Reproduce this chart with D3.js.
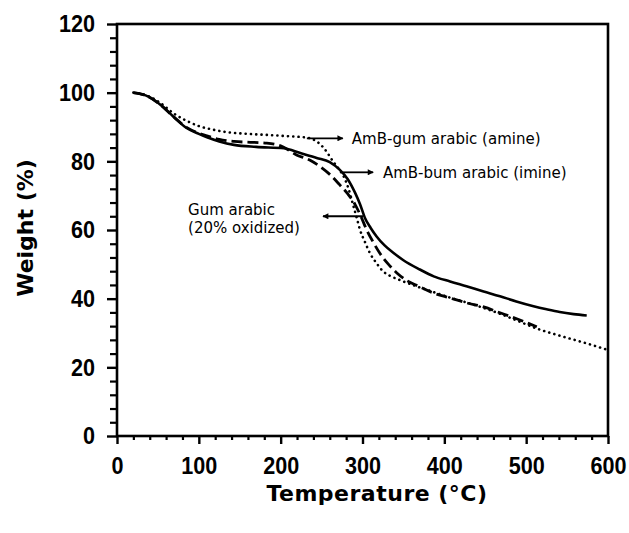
<!DOCTYPE html>
<html>
<head>
<meta charset="utf-8">
<script src="https://cdn.jsdelivr.net/npm/d3@7"></script>
<style>
  html, body { margin: 0; padding: 0; background: #fff; }
  svg { display: block; }
</style>
</head>
<body>
<svg id="chart" width="629" height="533"></svg>
<script>
// ---- data ----
const xTicks = [0, 100, 200, 300, 400, 500, 600];
const yTicks = [0, 20, 40, 60, 80, 100, 120];
const xLabel = "Temperature (\u00B0C)";
const yLabel = "Weight (%)";

const imineT = [20, 35, 53, 69, 85, 100, 110, 125, 143, 170, 204, 224, 244, 260, 272, 282, 291, 297, 303, 310, 317, 327, 338, 350, 370, 387, 407, 427, 448, 468, 488, 509, 525, 541, 558, 574];
const imineW = [100, 99.2, 96.5, 93, 89.7, 88, 87, 85.8, 84.8, 84.2, 83.8, 82.4, 81, 79.8, 77.6, 74.8, 70.8, 67.5, 63.5, 60.6, 58.2, 55.5, 53.3, 51.2, 48.5, 46.5, 45, 43.6, 42.1, 40.7, 39.2, 37.8, 36.9, 36.1, 35.5, 35.1];

const oxidT = [20, 35, 53, 69, 85, 100, 110, 125, 143, 183, 200, 220, 236, 248, 260, 272, 282, 291, 298, 305, 313, 321, 331, 342, 354, 366, 386, 407, 427, 448, 468, 490, 513];
const oxidW = [100, 99.2, 96.5, 93, 89.9, 88.2, 87.4, 86.4, 85.8, 85.3, 84.5, 81.8, 80.3, 78.5, 76.2, 73.2, 70.5, 67.4, 64, 60.1, 56.5, 53.3, 50.2, 47.5, 45.3, 43.9, 41.7, 40.2, 38.8, 37.6, 35.9, 34, 31.8];

const amineT = [20, 35, 53, 69, 85, 101, 118, 134, 160, 183, 210, 232, 244, 254, 264, 271, 277, 283, 289, 293, 297, 303, 309, 317, 325, 335, 346, 366, 386, 407, 427, 448, 468, 490, 513, 530, 550, 575, 598];
const amineW = [100, 99.3, 97, 94, 91.8, 90.2, 89.2, 88.5, 88, 87.7, 87.3, 86.9, 85.8, 83.5, 80, 77.8, 75.6, 72, 66.9, 63.5, 60, 56.5, 53.3, 50.4, 48, 46.5, 45.4, 43.6, 42, 40.3, 38.9, 37.3, 35.6, 33.5, 31.3, 30, 28.6, 26.9, 25.2];

const seriesNames = ["AmB-gum arabic (amine)", "AmB-bum arabic (imine)", "Gum arabic (20% oxidized)"];

// annotations: arrow from (t0,w) to (t1,w), label lines
const annoArrowT0 = [232, 276, 300.6];
const annoArrowT1 = [276, 313, 251.7];
const annoArrowW  = [86.7, 76.8, 64];
const annoTextT   = [287, 325, 86.8];
const annoTextW   = [86.7, 76.8, 66];
const annoLines   = [["AmB-gum arabic (amine)"], ["AmB-bum arabic (imine)"], ["Gum arabic", "(20% oxidized)"]];

// ---- layout ----
const svg = d3.select("#chart");
const L = 117, R = 608, T = 24, B = 436;
const x = d3.scaleLinear().domain([0, 600]).range([L, R]);
const y = d3.scaleLinear().domain([0, 120]).range([B, T]);

const tickFont = "'Liberation Sans', Arial, sans-serif";

// minor ticks
const xMinor = d3.range(0, 601, 20).filter(v => v % 100 !== 0);
const yMinor = d3.range(0, 121, 4).filter(v => v % 20 !== 0);

svg.append("g").attr("transform", `translate(0,${B})`)
  .call(d3.axisBottom(x).tickValues(xMinor).tickSize(4).tickFormat(""))
  .call(g => g.select(".domain").remove())
  .selectAll("line").attr("stroke", "#000").attr("stroke-width", 2.2);

svg.append("g").attr("transform", `translate(${L},0)`)
  .call(d3.axisLeft(y).tickValues(yMinor).tickSize(7).tickFormat(""))
  .call(g => g.select(".domain").remove())
  .selectAll("line").attr("stroke", "#000").attr("stroke-width", 2.2);

function styleTickText(sel) {
  sel.attr("font-family", tickFont).attr("font-weight", "bold")
    .attr("font-size", 24).attr("fill", "#000")
    .attr("lengthAdjust", "spacingAndGlyphs")
    .attr("textLength", function () { return this.textContent.length * 12; });
}

// major axes
const gx = svg.append("g").attr("transform", `translate(0,${B})`)
  .call(d3.axisBottom(x).tickValues(xTicks).tickSize(8).tickPadding(13).tickFormat(d3.format("d")));
gx.select(".domain").remove();
gx.selectAll("line").attr("stroke", "#000").attr("stroke-width", 2.4);
gx.selectAll("text").call(styleTickText);

const gy = svg.append("g").attr("transform", `translate(${L},0)`)
  .call(d3.axisLeft(y).tickValues(yTicks).tickSize(10).tickPadding(12).tickFormat(d3.format("d")));
gy.select(".domain").remove();
gy.selectAll("line").attr("stroke", "#000").attr("stroke-width", 2.4);
gy.selectAll("text").call(styleTickText);

// frame
svg.append("rect").attr("x", L).attr("y", T).attr("width", R - L).attr("height", B - T)
  .attr("fill", "none").attr("stroke", "#000").attr("stroke-width", 2.6);

// axis titles
svg.append("text").attr("x", 377).attr("y", 501).attr("text-anchor", "middle")
  .attr("font-family", "'DejaVu Sans', sans-serif").attr("font-weight", "bold")
  .attr("font-size", 22).attr("letter-spacing", 0.5).text(xLabel);
svg.append("text").attr("transform", "translate(33,228) rotate(-90)").attr("text-anchor", "middle")
  .attr("font-family", "'DejaVu Sans', sans-serif").attr("font-weight", "bold")
  .attr("font-size", 22).text(yLabel);

// curves
const line = d3.line().x(d => x(d[0])).y(d => y(d[1])).curve(d3.curveMonotoneX);
const zip = (a, b) => a.map((v, i) => [v, b[i]]);

svg.append("path").datum(zip(amineT, amineW)).attr("d", line)
  .attr("fill", "none").attr("stroke", "#000").attr("stroke-width", 2.6)
  .attr("stroke-dasharray", "0.1 5.2").attr("stroke-linecap", "round");
svg.append("path").datum(zip(oxidT, oxidW)).attr("d", line)
  .attr("fill", "none").attr("stroke", "#000").attr("stroke-width", 2.8)
  .attr("stroke-dasharray", "11 5");
svg.append("path").datum(zip(imineT, imineW)).attr("d", line)
  .attr("fill", "none").attr("stroke", "#000").attr("stroke-width", 2.6);

// arrows
svg.append("defs").append("marker").attr("id", "ah")
  .attr("viewBox", "0 0 10 10").attr("refX", 9).attr("refY", 5)
  .attr("markerWidth", 12).attr("markerHeight", 6).attr("markerUnits", "userSpaceOnUse")
  .attr("orient", "auto")
  .append("path").attr("d", "M0,0 L10,5 L0,10 Z").attr("fill", "#000");

annoArrowT0.forEach((t0, i) => {
  svg.append("line")
    .attr("x1", x(t0)).attr("x2", x(annoArrowT1[i]))
    .attr("y1", y(annoArrowW[i])).attr("y2", y(annoArrowW[i]))
    .attr("stroke", "#000").attr("stroke-width", 1.8)
    .attr("marker-end", "url(#ah)");
  const txt = svg.append("text")
    .attr("x", x(annoTextT[i])).attr("y", y(annoTextW[i]))
    .attr("font-family", "'DejaVu Sans', sans-serif").attr("font-size", 15)
    .attr("fill", "#000");
  annoLines[i].forEach((s, j) => {
    txt.append("tspan").attr("x", x(annoTextT[i]))
      .attr("dy", j === 0 ? "0.35em" : "1.2em").text(s);
  });
});
</script>
</body>
</html>
